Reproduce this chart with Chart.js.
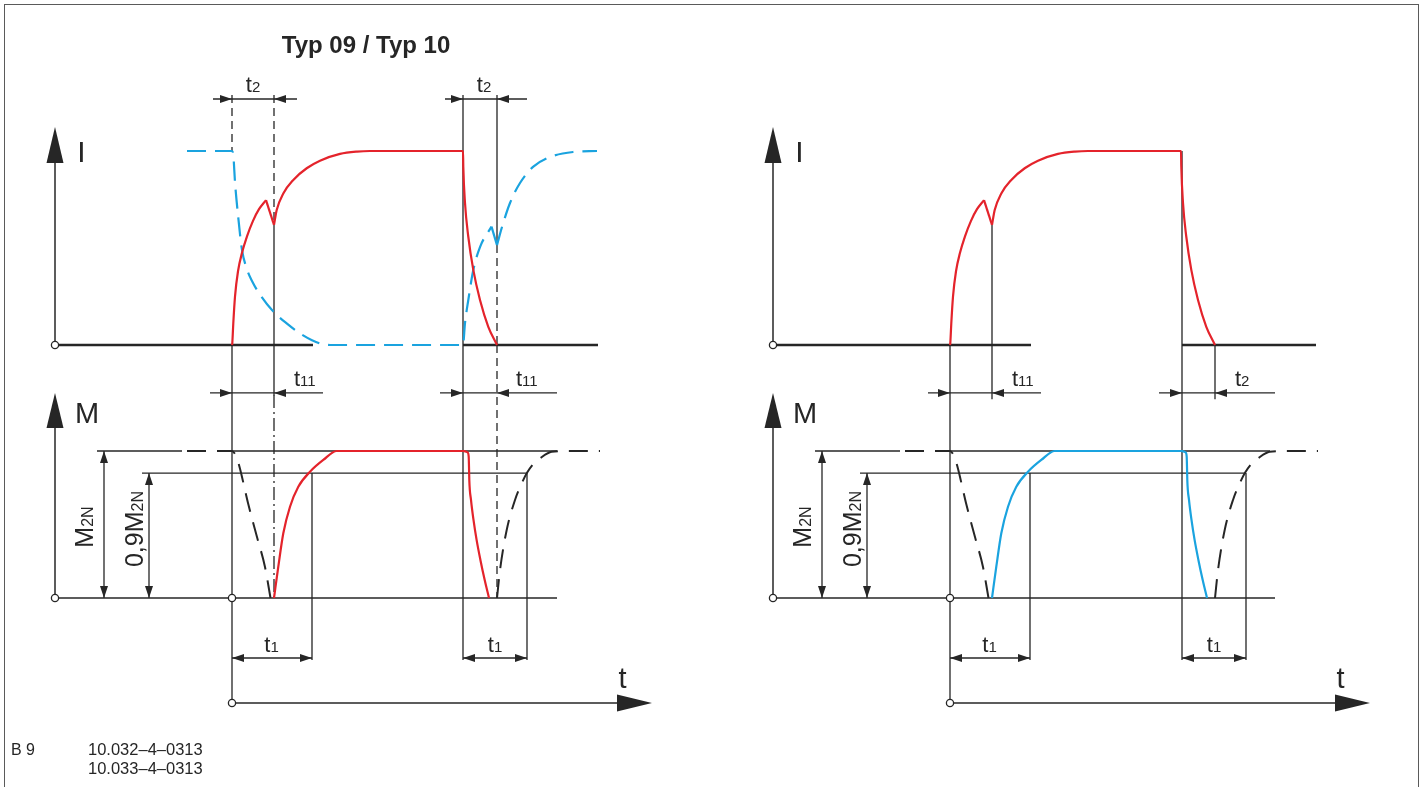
<!DOCTYPE html>
<html><head><meta charset="utf-8">
<script src="https://cdn.jsdelivr.net/npm/chart.js@4.4.1/dist/chart.umd.min.js"></script>
<style>
html,body{margin:0;padding:0;background:#fff;}
#wrap{position:relative;width:1425px;height:787px;overflow:hidden;}
#frame{position:absolute;left:4px;top:4px;width:1415px;height:830px;border:1.5px solid #5a5a5a;box-sizing:border-box;pointer-events:none;}
canvas{position:absolute;left:0;top:0;}
</style></head><body>
<div id="wrap"><canvas id="c" width="1425" height="787"></canvas><div id="frame"></div></div>
<script>
// ================= DATA (diagram units: t = time, I and M = levels relative to nominal) =================
const switchOn = 0, switchOff = 23.1, switchOffR = 23.2;
const t2On = 4.2, t2Off = 26.5;              // end of t2 / t11 intervals
const t1On = 8.0, t1Off = 29.5, t1OffR = 29.6; // end of t1 intervals
const levelNominal = 1, level09 = 0.85;       // M2N and 0,9 M2N as drawn

// motor current I (red, both panels)
const currentRise = [[0,0],[0.03,0.01],[0.13,0.112],[0.3,0.249],[0.6,0.38],[1.0,0.475],[1.5,0.56],[2.1,0.64],[2.7,0.7],[3.4,0.747]];
const currentPeakDip = [[3.4,0.747],[4.2,0.619]];
const currentRun = [[4.2,0.619],[4.47,0.696],[5.13,0.781],[6.13,0.851],[7.47,0.911],[8.8,0.95],[10.8,0.985],[12.5,0.997],[13.8,1],[23.1,1],[23.13,0.919],[23.3,0.732],[23.63,0.558],[24.13,0.387],[24.8,0.232],[25.63,0.094],[26.5,0]];
// brake current (blue dashed, left panel)
const brakeFall = [[-4.5,1],[0,1],[0.13,0.98],[0.3,0.84],[0.6,0.67],[1.0,0.49],[1.5,0.39],[2.0,0.33],[2.8,0.26],[4.0,0.18],[5.5,0.11],[6.8,0.06],[8.0,0.025],[9.0,0.005],[9.8,0],[23.1,0],[23.3,0.113],[23.63,0.232],[24.13,0.387],[24.8,0.505],[25.95,0.61]];
const brakePeakDip = [[25.95,0.61],[26.5,0.515]];
const brakeRecover = [[26.5,0.515],[27.0,0.608],[27.8,0.732],[28.8,0.835],[30.1,0.918],[31.8,0.969],[34.1,0.995],[36.5,1]];
// torque M (red left / blue right)
const torqueRun = [[4.2,0],[4.63,0.213],[5.13,0.44],[5.8,0.621],[6.63,0.757],[7.8,0.859],[9.13,0.939],[10.47,1],[23.1,1],[23.3,0.998],[23.57,0.99],[23.67,0.961],[23.7,0.893],[23.73,0.803],[23.9,0.667],[24.15,0.531],[24.46,0.395],[24.84,0.259],[25.27,0.122],[25.7,0]];
// braking torque (black dashed)
const torqueDecayOn = [[-4.5,1],[0,1],[0.25,0.985],[0.5,0.95],[0.8,0.88],[1.6,0.646],[2.5,0.415],[3.3,0.211],[3.85,0]];
const torqueBuildOff = [[26.5,0],[26.8,0.19],[27.47,0.463],[28.3,0.667],[28.97,0.78],[29.5,0.852],[30.13,0.912],[30.8,0.95],[31.97,0.995],[33.8,1],[36.8,1]];

// texts
const titleText = 'Typ 09 / Typ 10';
const footerCode = 'B 9';
const footerRefs = ['10.032\u20134\u20130313', '10.033\u20134\u20130313'];

// ================= STYLE / LAYOUT =================
const INK = '#262626', RED = '#e4232b', CYAN = '#1aa3df';
const FONT = "'Liberation Sans', Arial, Helvetica, sans-serif";
const axisT = -17.7;          // position of I / M axes on the time scale
const tAxisLevel = -0.714;    // t-axis level on the M scale
const tipI = 1.124, tipM = 1.395, tAxisTip = 42.0;

const ds = [];
function add(points, xa, ya, color, width, dash, extra) {
  ds.push(Object.assign({
    data: points.map(p => ({x: p[0], y: p[1]})),
    xAxisID: xa, yAxisID: ya, showLine: true, fill: false,
    borderColor: color, borderWidth: width, borderDash: dash || [],
    pointRadius: 0, pointHoverRadius: 0, tension: 0, order: 10,
    borderCapStyle: 'butt', borderJoinStyle: 'miter', clip: false
  }, extra || {}));
}
const smooth = {cubicInterpolationMode: 'monotone', order: 0, borderJoinStyle: 'round'};
const sharp = {order: 0, borderJoinStyle: 'miter'};
const hline = (xa, ya, a, b, v, w, dash) => add([[a, v], [b, v]], xa, ya, INK, w, dash);
const vline = (xa, ya, t, a, b, w, dash) => add([[t, a], [t, b]], xa, ya, INK, w, dash);

const heads = [];   // arrowheads {xa, ya, t, v, dir, len, hw}
const labels = [];  // {xa, ya, t, v, parts, align, rot}
const head = (xa, ya, t, v, dir, len, hw) => heads.push({xa, ya, t, v, dir, len: len || 12, hw: hw || 4});
const sub = (main, s, ms, ss) => [{t: main, s: ms || 22}, {t: s, s: ss || 15}];

function panel(xa, left) {
  const off = left ? switchOff : switchOffR, t1e = left ? t1Off : t1OffR;
  // axes
  vline(xa, 'yI', axisT, 0, 0.95, 1.5);
  vline(xa, 'yM', axisT, 0, 1.16, 1.5);
  hline(xa, 'yM', switchOn, 38.6, tAxisLevel, 1.5);
  head(xa, 'yI', axisT, tipI, 'up', 36, 8.5);
  head(xa, 'yM', axisT, tipM, 'up', 35, 8.5);
  head(xa, 'yM', tAxisTip, tAxisLevel, 'right', 35, 8.5);
  // baselines
  hline(xa, 'yI', axisT, 8.1, 0, 2.6);
  hline(xa, 'yI', off, 36.6, 0, 2.6);
  hline(xa, 'yM', axisT, 32.5, 0, 1.6);
  // reference levels
  hline(xa, 'yM', -13.5, -5.0, levelNominal, 1.3);
  hline(xa, 'yM', 0, left ? 32.5 : 32.0, levelNominal, 1.3);
  hline(xa, 'yM', -9.0, t1e, level09, 1.3);
  // M2N / 0,9M2N dimension arrows
  vline(xa, 'yM', -12.8, 0, levelNominal, 1.3);
  head(xa, 'yM', -12.8, levelNominal, 'up'); head(xa, 'yM', -12.8, 0, 'down');
  vline(xa, 'yM', -8.3, 0, level09, 1.3);
  head(xa, 'yM', -8.3, level09, 'up'); head(xa, 'yM', -8.3, 0, 'down');
  // switching verticals
  vline(xa, 'yM', switchOn, 1.721, tAxisLevel, 1.3);
  vline(xa, 'yM', t1On, level09, -0.422, 1.3);
  vline(xa, 'yM', t1e, level09, -0.422, 1.3);
  // t1 dimensions
  hline(xa, 'yM', switchOn, t1On, -0.408, 1.3);
  head(xa, 'yM', switchOn, -0.408, 'left'); head(xa, 'yM', t1On, -0.408, 'right');
  hline(xa, 'yM', off, t1e, -0.408, 1.3);
  head(xa, 'yM', off, -0.408, 'left'); head(xa, 'yM', t1e, -0.408, 'right');
  // t11 row
  hline(xa, 'yM', -2.2, 9.1, tipM, 1.3);
  head(xa, 'yM', switchOn, tipM, 'right'); head(xa, 'yM', t2On, tipM, 'left');
  hline(xa, 'yM', off - 2.3, 32.5, tipM, 1.3);
  head(xa, 'yM', off, tipM, 'right'); head(xa, 'yM', t2Off, tipM, 'left');
  // current curves
  add(currentRise, xa, 'yI', RED, 2.2, [], smooth);
  add(currentPeakDip, xa, 'yI', RED, 2.2, [], sharp);
  add(currentRun, xa, 'yI', RED, 2.2, [], smooth);
  // torque curves
  add(torqueRun, xa, 'yM', left ? RED : CYAN, 2.2, [], smooth);
  add(torqueDecayOn, xa, 'yM', INK, 2, [19, 11], smooth);
  add(torqueBuildOff, xa, 'yM', INK, 2, [19, 11], smooth);
  if (left) {
    add(brakeFall, xa, 'yI', CYAN, 2.2, [19, 9], smooth);
    add(brakePeakDip, xa, 'yI', CYAN, 2.2, [19, 9], sharp);
    add(brakeRecover, xa, 'yI', CYAN, 2.2, [19, 9], smooth);
    vline(xa, 'yI', switchOn, 1.289, 1.0, 1.3, [8, 5]);
    vline(xa, 'yI', t2On, 1.289, 0.619, 1.3, [8, 5]);
    vline(xa, 'yI', t2On, 0.619, -0.26, 1.3);
    vline(xa, 'yM', t2On, 1.381, 0, 1.3, [13, 4, 2, 4]);
    vline(xa, 'yI', off, 1.289, 0, 1.3);
    vline(xa, 'yM', off, 1.721, -0.422, 1.3);
    vline(xa, 'yI', t2Off, 1.289, 0.515, 1.3);
    vline(xa, 'yI', t2Off, 0.515, 0, 1.3, [8, 5]);
    vline(xa, 'yM', t2Off, 1.721, 0, 1.3, [8, 5]);
    // t2 dimension row on top
    hline(xa, 'yI', -1.9, 6.5, 1.268, 1.3);
    head(xa, 'yI', switchOn, 1.268, 'right'); head(xa, 'yI', t2On, 1.268, 'left');
    hline(xa, 'yI', 21.3, 29.5, 1.268, 1.3);
    head(xa, 'yI', off, 1.268, 'right'); head(xa, 'yI', t2Off, 1.268, 'left');
    labels.push({xa, ya: 'yI', t: 2.1, v: 1.304, parts: sub('t', '2'), align: 'center'});
    labels.push({xa, ya: 'yI', t: 25.2, v: 1.304, parts: sub('t', '2'), align: 'center'});
    labels.push({xa, ya: 'yI', t: 13.4, v: 1.505, parts: [{t: titleText, s: 24, w: 'bold'}], align: 'center'});
    labels.push({xa, ya: 'yM', t: 6.2, v: 1.442, parts: sub('t', '11'), align: 'left'});
    labels.push({xa, ya: 'yM', t: 28.4, v: 1.442, parts: sub('t', '11'), align: 'left'});
    labels.push({xa, ya: 'yM', t: -22.1, v: -1.068, parts: [{t: footerCode, s: 16}], align: 'left'});
    labels.push({xa, ya: 'yM', t: -14.4, v: -1.068, parts: [{t: footerRefs[0], s: 16.5}], align: 'left'});
    labels.push({xa, ya: 'yM', t: -14.4, v: -1.197, parts: [{t: footerRefs[1], s: 16.5}], align: 'left'});
  } else {
    vline(xa, 'yI', t2On, 0.619, -0.28, 1.3);
    vline(xa, 'yI', off, 1.0, 0, 1.3);
    vline(xa, 'yM', off, 1.721, -0.422, 1.3);
    vline(xa, 'yI', t2Off, 0, -0.28, 1.3);
    labels.push({xa, ya: 'yM', t: 6.2, v: 1.442, parts: sub('t', '11'), align: 'left'});
    labels.push({xa, ya: 'yM', t: 28.5, v: 1.442, parts: sub('t', '2'), align: 'left'});
  }
  labels.push({xa, ya: 'yI', t: -15.05, v: 0.943, parts: [{t: 'I', s: 30}], align: 'center'});
  labels.push({xa, ya: 'yM', t: -14.5, v: 1.19, parts: [{t: 'M', s: 29}], align: 'center'});
  labels.push({xa, ya: 'yM', t: 39.05, v: -0.612, parts: [{t: 't', s: 29}], align: 'center'});
  labels.push({xa, ya: 'yM', t: 3.95, v: -0.365, parts: sub('t', '1'), align: 'center'});
  labels.push({xa, ya: 'yM', t: left ? 26.3 : 26.4, v: -0.365, parts: sub('t', '1'), align: 'center'});
  labels.push({xa, ya: 'yM', t: -13.9, v: 0.483, parts: sub('M', '2N', 25, 16), align: 'center', rot: -Math.PI / 2});
  labels.push({xa, ya: 'yM', t: -8.9, v: 0.469, parts: [{t: '0,9M', s: 25}, {t: '2N', s: 16}], align: 'center', rot: -Math.PI / 2});
  // origin circles
  const circ = {showLine: false, pointRadius: 3.6, pointBackgroundColor: '#fff', pointBorderColor: INK, pointBorderWidth: 1.3, order: -10};
  add([[axisT, 0]], xa, 'yI', INK, 1, [], circ);
  add([[axisT, 0], [switchOn, 0], [switchOn, tAxisLevel]], xa, 'yM', INK, 1, [], circ);
}
panel('xL', true);
panel('xR', false);

const decor = {
  id: 'decor',
  afterDatasetsDraw(chart) {
    const ctx = chart.ctx, s = chart.scales;
    ctx.save();
    ctx.fillStyle = INK;
    heads.forEach(h => {
      const x = s[h.xa].getPixelForValue(h.t), y = s[h.ya].getPixelForValue(h.v);
      ctx.beginPath(); ctx.moveTo(x, y);
      if (h.dir === 'up') { ctx.lineTo(x - h.hw, y + h.len); ctx.lineTo(x + h.hw, y + h.len); }
      else if (h.dir === 'down') { ctx.lineTo(x - h.hw, y - h.len); ctx.lineTo(x + h.hw, y - h.len); }
      else if (h.dir === 'right') { ctx.lineTo(x - h.len, y - h.hw); ctx.lineTo(x - h.len, y + h.hw); }
      else { ctx.lineTo(x + h.len, y - h.hw); ctx.lineTo(x + h.len, y + h.hw); }
      ctx.closePath(); ctx.fill();
    });
    labels.forEach(l => {
      const x = s[l.xa].getPixelForValue(l.t), y = s[l.ya].getPixelForValue(l.v);
      ctx.save(); ctx.translate(x, y); if (l.rot) ctx.rotate(l.rot);
      let total = 0;
      l.parts.forEach(p => { ctx.font = `${p.w || 'normal'} ${p.s}px ${FONT}`; p.width = ctx.measureText(p.t).width; total += p.width; });
      let cx = l.align === 'center' ? -total / 2 : 0;
      ctx.textAlign = 'left'; ctx.textBaseline = 'alphabetic'; ctx.fillStyle = INK;
      l.parts.forEach(p => { ctx.font = `${p.w || 'normal'} ${p.s}px ${FONT}`; ctx.fillText(p.t, cx, 0); cx += p.width; });
      ctx.restore();
    });
    ctx.restore();
  }
};

const yImax = 345 / 194, yMmax = 598 / 147;
const hidden = {type: 'linear', display: false, bounds: 'data', grace: 0};
new Chart(document.getElementById('c'), {
  type: 'scatter',
  data: {datasets: ds},
  options: {
    responsive: false, animation: false, devicePixelRatio: 1, events: [],
    layout: {padding: 0, autoPadding: false},
    plugins: {legend: {display: false}, tooltip: {enabled: false}},
    scales: {
      xL: Object.assign({axis: 'x', position: 'bottom', min: -23.2, max: 119.3}, hidden),
      xR: Object.assign({axis: 'x', position: 'bottom', min: -95, max: 47.5}, hidden),
      yI: Object.assign({axis: 'y', position: 'left', min: yImax - 787 / 194, max: yImax}, hidden),
      yM: Object.assign({axis: 'y', position: 'left', min: yMmax - 787 / 147, max: yMmax}, hidden)
    }
  },
  plugins: [decor]
});
</script></body></html>
